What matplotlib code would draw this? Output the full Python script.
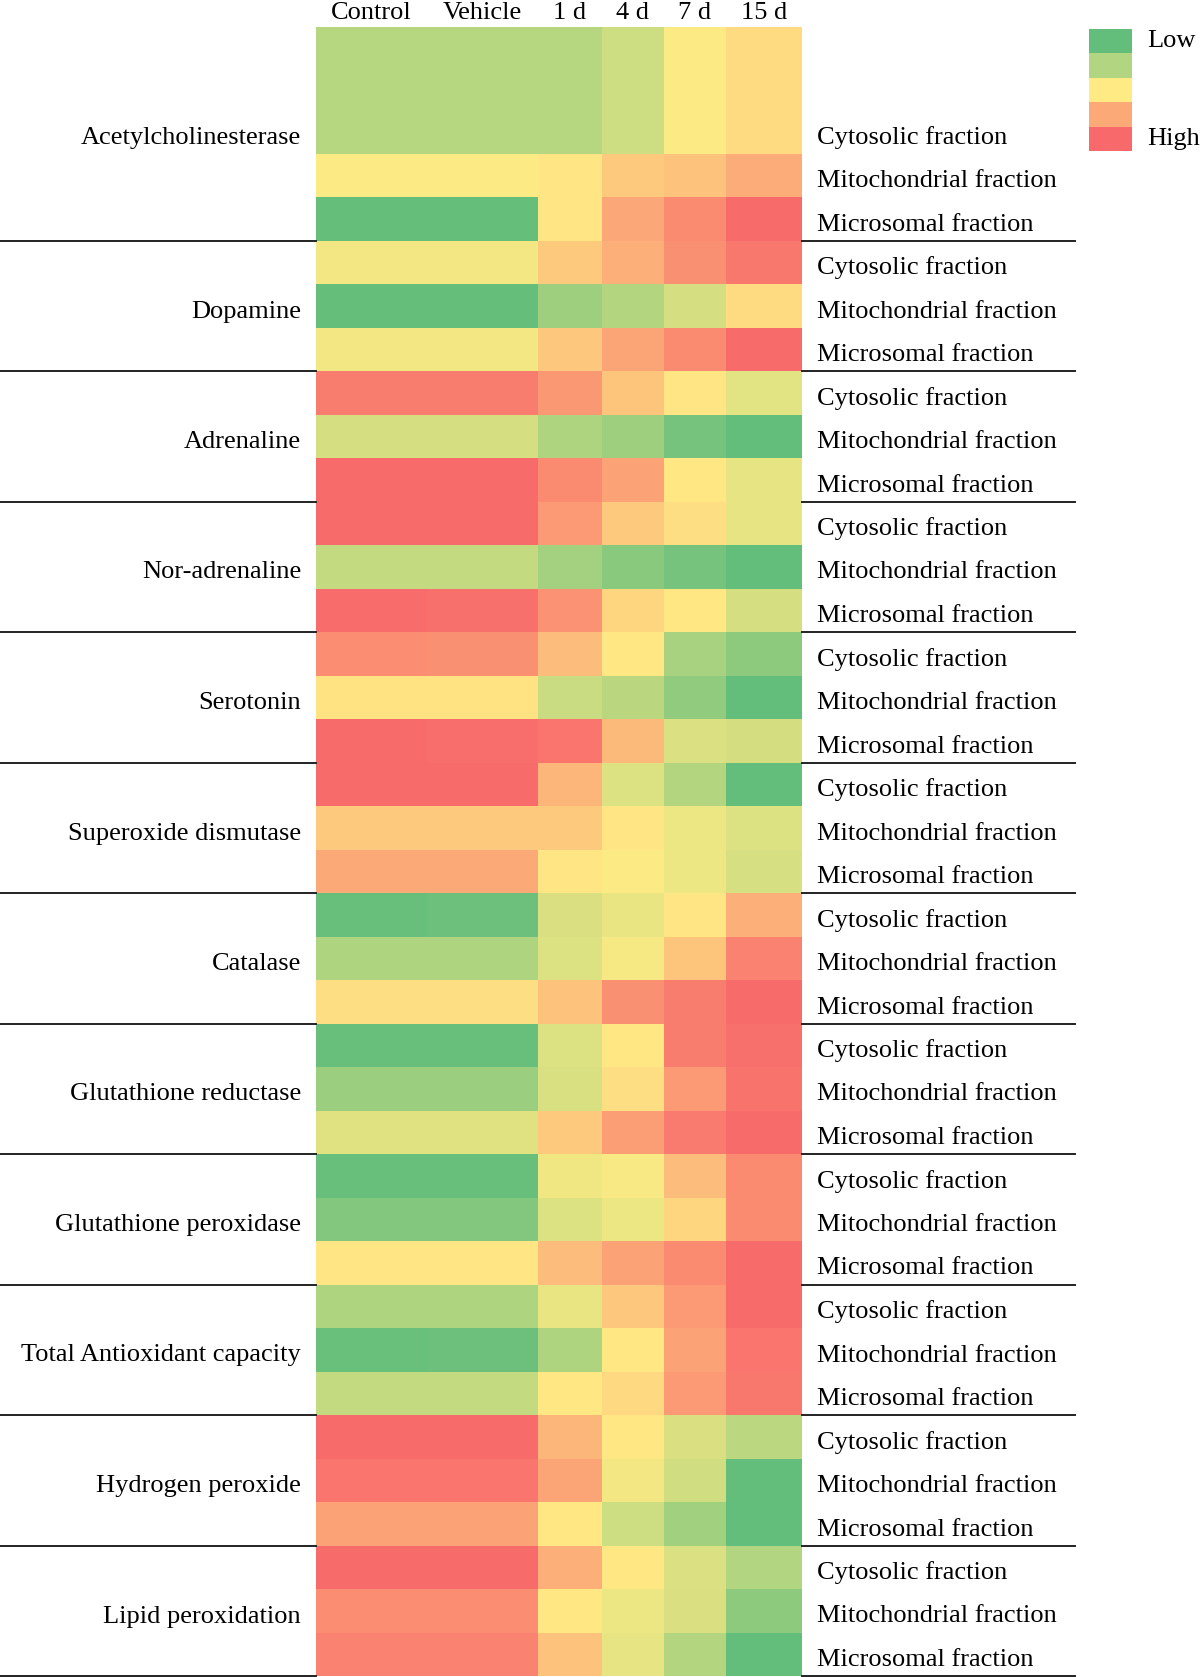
import numpy as np
import matplotlib
matplotlib.use("Agg")
from matplotlib import pyplot
from matplotlib.colors import LinearSegmentedColormap

# Datos: 0 = bajo (verde), 0.5 = medio (amarillo), 1 = alto (rojo)
columns = ["Control", "Vehicle", "1 d", "4 d", "7 d", "15 d"]
fractions = ["Cytosolic fraction", "Mitochondrial fraction", "Microsomal fraction"]
groups = ["Acetylcholinesterase", "Dopamine", "Adrenaline", "Nor-adrenaline",
          "Serotonin", "Superoxide dismutase", "Catalase", "Glutathione reductase",
          "Glutathione peroxidase", "Total Antioxidant capacity",
          "Hydrogen peroxide", "Lipid peroxidation"]

acetylcholinesterase = [[0.27, 0.27, 0.27, 0.34, 0.49, 0.56],
                        [0.49, 0.49, 0.52, 0.63, 0.66, 0.74],
                        [0.01, 0.01, 0.52, 0.76, 0.87, 0.99]]
dopamine = [[0.46, 0.46, 0.63, 0.73, 0.85, 0.94],
            [0.01, 0.01, 0.19, 0.26, 0.365, 0.56],
            [0.46, 0.46, 0.64, 0.77, 0.87, 0.99]]
adrenaline = [[0.92, 0.92, 0.82, 0.65, 0.52, 0.41],
              [0.365, 0.365, 0.24, 0.19, 0.06, 0.00],
              [0.99, 0.99, 0.87, 0.78, 0.51, 0.42]]
nor_adrenaline = [[0.99, 0.99, 0.81, 0.63, 0.55, 0.42],
                  [0.31, 0.31, 0.21, 0.12, 0.06, 0.00],
                  [0.985, 0.97, 0.84, 0.58, 0.51, 0.365]]
serotonin = [[0.86, 0.85, 0.68, 0.51, 0.22, 0.14],
             [0.53, 0.53, 0.33, 0.28, 0.15, 0.00],
             [0.99, 0.98, 0.95, 0.69, 0.385, 0.36]]
superoxide_dismutase = [[0.99, 0.99, 0.70, 0.39, 0.26, 0.00],
                        [0.63, 0.63, 0.63, 0.52, 0.44, 0.39],
                        [0.75, 0.75, 0.52, 0.49, 0.44, 0.37]]
catalase = [[0.013, 0.03, 0.38, 0.43, 0.52, 0.73],
            [0.24, 0.24, 0.39, 0.47, 0.65, 0.90],
            [0.55, 0.55, 0.66, 0.85, 0.92, 0.99]]
glutathione_reductase = [[0.013, 0.013, 0.39, 0.51, 0.92, 0.97],
                         [0.18, 0.18, 0.375, 0.55, 0.81, 0.96],
                         [0.40, 0.40, 0.63, 0.80, 0.93, 0.99]]
glutathione_peroxidase = [[0.013, 0.013, 0.45, 0.48, 0.68, 0.87],
                          [0.10, 0.10, 0.39, 0.44, 0.58, 0.87],
                          [0.52, 0.52, 0.68, 0.78, 0.87, 0.99]]
total_antioxidant = [[0.24, 0.24, 0.43, 0.64, 0.81, 0.99],
                     [0.02, 0.03, 0.24, 0.51, 0.78, 0.95],
                     [0.31, 0.31, 0.51, 0.57, 0.81, 0.94]]
hydrogen_peroxide = [[0.99, 0.99, 0.70, 0.51, 0.38, 0.285],
                     [0.95, 0.95, 0.77, 0.46, 0.35, 0.00],
                     [0.78, 0.78, 0.51, 0.34, 0.20, 0.00]]
lipid_peroxidation = [[0.99, 0.99, 0.73, 0.51, 0.385, 0.25],
                      [0.86, 0.86, 0.51, 0.44, 0.38, 0.14],
                      [0.90, 0.90, 0.66, 0.42, 0.26, 0.00]]

legend_levels = [0.0, 0.25, 0.5, 0.75, 1.0]
legend_labels = ["Low", "", "", "", "High"]

values = np.array(acetylcholinesterase + dopamine + adrenaline + nor_adrenaline
                  + serotonin + superoxide_dismutase + catalase
                  + glutathione_reductase + glutathione_peroxidase
                  + total_antioxidant + hydrogen_peroxide + lipid_peroxidation)

# Escala de color tipo Excel verde-amarillo-rojo
cmap = LinearSegmentedColormap.from_list("gyr", ["#63BE7B", "#FFEB84", "#F8696B"])

pyplot.rcParams['font.family'] = ['Liberation Serif', 'DejaVu Serif']
fs = 19

# Geometría en píxeles (la primera fila es más alta)
x_edges = np.array([315.5, 427, 538, 602, 664, 726, 802])
first_bottom = 153.5
row_h = (1676 - first_bottom) / (len(values) - 1)
y_edges = np.concatenate([[26.7], first_bottom + row_h * np.arange(len(values))])

fig = pyplot.figure(figsize=(12, 16.77), dpi=100)
ax = fig.add_axes([0, 0, 1, 1])
ax.set_xlim(0, 1200)
ax.set_ylim(1677, 0)
ax.axis('off')

ax.pcolormesh(x_edges, y_edges, values, cmap=cmap, vmin=0, vmax=1,
              edgecolors='none')

# Encabezados de columnas
x_mid = (x_edges[:-1] + x_edges[1:]) / 2
for xm, name in zip(x_mid, columns):
    ax.text(xm, 19, name, ha='center', va='baseline', fontsize=fs)

# Etiquetas de fila (texto alineado abajo como en Excel)
for i in range(len(values)):
    y_text = y_edges[i + 1] - 16
    ax.text(817, y_text, fractions[i % 3], ha='left', va='center', fontsize=fs)

for g, name in enumerate(groups):
    row = 3 * g if g == 0 else 3 * g + 1
    ax.text(301, y_edges[row + 1] - 16, name, ha='right', va='center', fontsize=fs)
    y_line = y_edges[3 * g + 3]
    ax.plot([0, x_edges[0]], [y_line, y_line], color='#222222', lw=1.4)
    ax.plot([x_edges[-1], 1075], [y_line, y_line], color='#222222', lw=1.4)

# Leyenda
box_h = 24.4
for k, (lev, lab) in enumerate(zip(legend_levels, legend_labels)):
    y0 = 29 + k * box_h
    ax.add_patch(pyplot.Rectangle((1089, y0), 43, box_h, color=cmap(lev), lw=0))
    if lab:
        ax.text(1147, y0 + box_h / 2, lab, ha='left', va='center', fontsize=fs)

pyplot.savefig('out.png', dpi=100)
pyplot.close()
